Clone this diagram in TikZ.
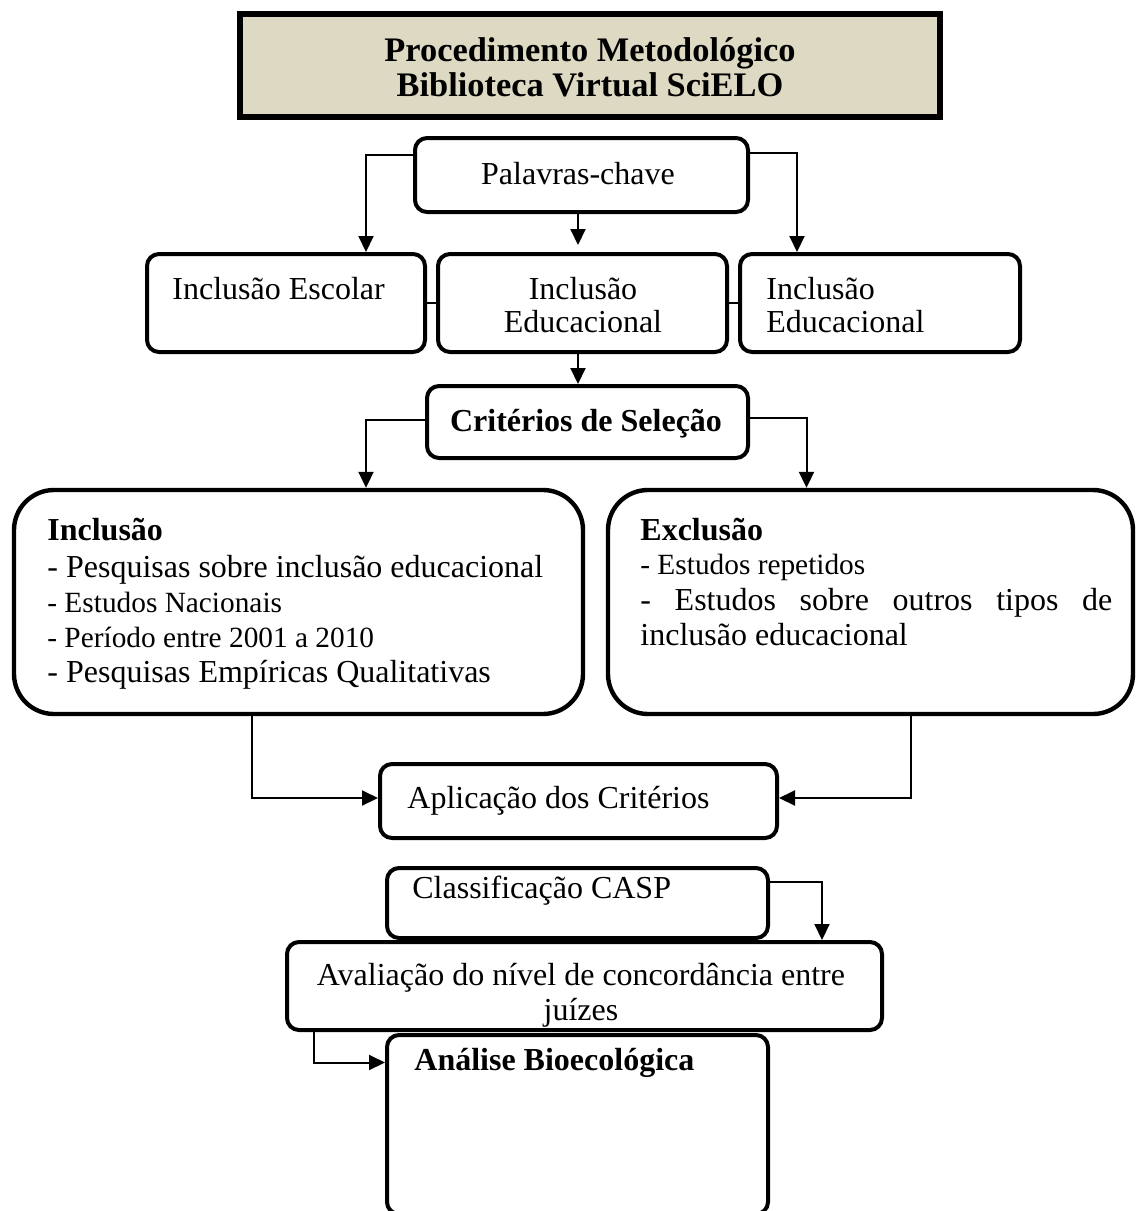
\documentclass[tikz,border=0pt]{standalone}
\usepackage{fontspec}
\setmainfont{Liberation Serif}
\usetikzlibrary{arrows.meta}
\definecolor{tan}{HTML}{DDD9C3}
\begin{document}
\begin{tikzpicture}[x=0.5pt,y=-0.5pt,
  box/.style={draw,line width=2pt,rounded corners=6pt,inner sep=0pt,fill=white},
  bigbox/.style={draw,line width=2.2pt,rounded corners=20pt,inner sep=0pt,fill=white},
  titlebox/.style={draw,line width=3.2pt,fill=tan,inner sep=0pt},
  txt/.style={inner sep=0pt,font=\fontsize{16pt}{17.5pt}\selectfont},
  stxt/.style={inner sep=0pt,font=\fontsize{14.67pt}{17pt}\selectfont},
  btxt/.style={inner sep=0pt,font=\fontsize{16pt}{17.5pt}\selectfont\bfseries},
  ttxt/.style={inner sep=0pt,font=\fontsize{17.2pt}{18pt}\selectfont\bfseries},
  conn/.style={line width=1pt},
  arr/.style={line width=1pt,-{Triangle[length=8pt,width=7.5pt]}}]
\useasboundingbox (0,0) rectangle (1136,1211);
% boxes
\node[titlebox,minimum width=350pt,minimum height=51.5pt] (title) at (590,65.5) {};
\node[box,minimum width=166.5pt,minimum height=37pt] (pal) at (581.5,175) {};
\node[box,minimum width=139pt,minimum height=49pt] (esc) at (286,303) {};
\node[box,minimum width=144.5pt,minimum height=49pt] (edu1) at (582.5,303) {};
\node[box,minimum width=140pt,minimum height=49pt] (edu2) at (880,303) {};
\node[box,minimum width=160.5pt,minimum height=36pt] (crit) at (587.5,422) {};
\node[bigbox,minimum width=284.5pt,minimum height=112pt] (inc) at (298.5,602) {};
\node[bigbox,minimum width=262.5pt,minimum height=112pt] (exc) at (870.5,602) {};
\node[box,minimum width=198.5pt,minimum height=37pt] (apl) at (578.5,801) {};
\node[box,minimum width=190.5pt,minimum height=35pt] (casp) at (577.5,903) {};
\node[box,minimum width=297.5pt,minimum height=44pt] (aval) at (584.5,986) {};
\node[box,minimum width=190.5pt,minimum height=89.5pt] (anal) at (577.5,1124.5) {};
% texts
\node[ttxt,anchor=base] (t1) at (590,61) {Procedimento Metodológico};
\node[ttxt,anchor=base] (t2) at (590,96) {Biblioteca Virtual SciELO};
\node[txt,anchor=base] (tpal) at (578,184) {Palavras-chave};
\node[txt,anchor=base west] (tesc) at (172,299) {Inclusão Escolar};
\node[txt,anchor=base] (tedu1a) at (583,299) {Inclusão};
\node[txt,anchor=base] (tedu1b) at (583,332) {Educacional};
\node[txt,anchor=base west] (tedu2a) at (766,299) {Inclusão};
\node[txt,anchor=base west] (tedu2b) at (766,332) {Educacional};
\node[btxt,anchor=base] (tcrit) at (586,431) {Critérios de Seleção};
\node[btxt,anchor=base west] (tinc0) at (47,540) {Inclusão};
\node[txt,anchor=base west] (tinc1) at (47,577) {- Pesquisas sobre inclusão educacional};
\node[stxt,anchor=base west] (tinc2) at (47,612) {- Estudos Nacionais};
\node[stxt,anchor=base west] (tinc3) at (47,647) {- Período entre 2001 a 2010};
\node[txt,anchor=base west] (tinc4) at (47,682) {- Pesquisas Empíricas Qualitativas};
\node[btxt,anchor=base west] (texc0) at (640,540) {Exclusão};
\node[stxt,anchor=base west] (texc1) at (640,574) {- Estudos repetidos};
\node[txt,anchor=base west] (texc2) at (640,610) {\makebox[236pt][s]{- Estudos sobre outros tipos de}};
\node[txt,anchor=base west] (texc3) at (640,645) {inclusão educacional};
\node[txt,anchor=base west] (tapl) at (407,808) {Aplicação dos Critérios};
\node[txt,anchor=base west] (tcasp) at (412,898) {Classificação CASP};
\node[txt,anchor=base] (taval1) at (581,985) {Avaliação do nível de concordância entre};
\node[txt,anchor=base] (taval2) at (581,1020) {juízes};
\node[btxt,anchor=base west] (tanal) at (414,1070) {Análise Bioecológica};
% connectors
\draw[arr] ([yshift=10pt]pal.west) -| ([xshift=40pt]esc.north);
\draw[arr] ([yshift=11pt]pal.east) -| ([xshift=-41.5pt]edu2.north);
\draw[arr] ([xshift=-1.75pt]pal.south) -- ++(0,31);
\draw[conn] (esc.east) -- (edu1.west);
\draw[conn] (edu1.east) -- (edu2.west);
\draw[arr] ([xshift=-2.25pt]edu1.south) -- ([xshift=-2.25pt]edu1.south |- crit.north);
\draw[arr] ([yshift=1pt]crit.west) -| ([xshift=33.75pt]inc.north);
\draw[arr] ([yshift=2pt]crit.east) -| ([xshift=-32pt]exc.north);
\draw[arr] ([xshift=-23.25pt]inc.south) |- ([yshift=1.5pt]apl.west);
\draw[arr] ([xshift=20pt]exc.south) |- ([yshift=1.5pt]apl.east);
\draw[arr] ([yshift=10.5pt]casp.east) -| ([xshift=118.75pt]aval.north);
\draw[arr] ([xshift=-135.25pt]aval.south) |- ([yshift=31pt]anal.west);
\end{tikzpicture}
\end{document}
